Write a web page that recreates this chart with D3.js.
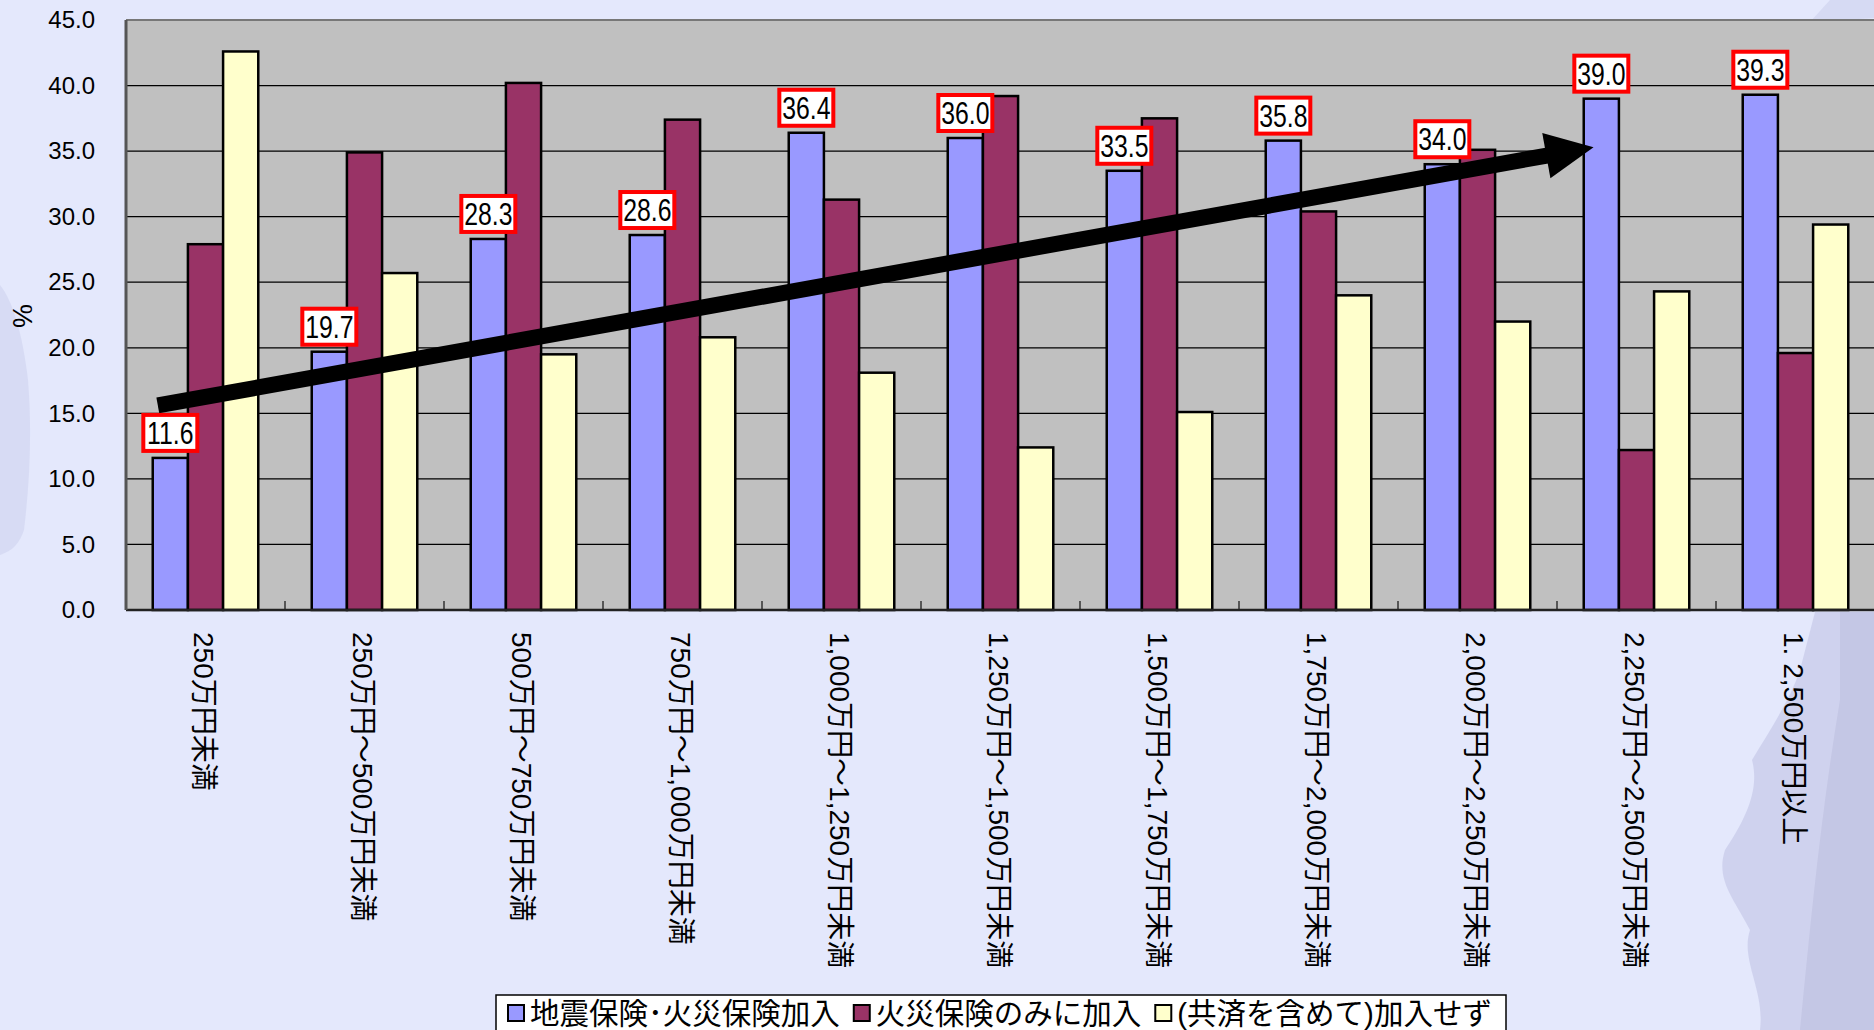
<!doctype html>
<html>
<head>
<meta charset="utf-8">
<script src="https://d3js.org/d3.v7.min.js"></script>
<style>
body { margin: 0; background: #e4e8fc; overflow: hidden; }
text { font-family: "Liberation Sans", "Noto Sans CJK JP", sans-serif; }
</style>
</head>
<body>
<script>
var width = 1874, height = 1030;

// data
var categories = ['250万円未満', '250万円～500万円未満', '500万円～750万円未満', '750万円～1,000万円未満',
  '1,000万円～1,250万円未満', '1,250万円～1,500万円未満', '1,500万円～1,750万円未満',
  '1,750万円～2,000万円未満', '2,000万円～2,250万円未満', '2,250万円～2,500万円未満', '1. 2,500万円以上'];
var seriesNames = ['地震保険･火災保険加入', '火災保険のみに加入', '(共済を含めて)加入せず'];
var quakeFire = [11.6, 19.7, 28.3, 28.6, 36.4, 36.0, 33.5, 35.8, 34.0, 39.0, 39.3];
var fireOnly = [27.9, 34.9, 40.2, 37.4, 31.3, 39.2, 37.5, 30.4, 35.1, 12.2, 19.6];
var notInsured = [42.6, 25.7, 19.5, 20.8, 18.1, 12.4, 15.1, 24.0, 22.0, 24.3, 29.4];
var yTicks = [0, 5, 10, 15, 20, 25, 30, 35, 40, 45];
// trend arrow: position in category units and value
var trend = [{c: 0.2, v: 15.6}, {c: 9.23, v: 35.3}];

var colors = ['#9999ff', '#993366', '#ffffcc'];
var seriesValues = [quakeFire, fireOnly, notInsured];

var svg = d3.select('body').append('svg').attr('width', width).attr('height', height);

// faint brush texture in the background
var tex = svg.append('g').attr('fill', '#c8cbea');
tex.append('path').attr('opacity', 0.45)
  .attr('d', 'M0,285 C12,300 22,330 28,380 C32,430 30,480 24,530 C18,548 8,552 0,555 Z');
tex.append('path').attr('opacity', 0.5)
  .attr('d', 'M1830,0 L1874,0 L1874,18 L1810,22 Z');
tex.append('path').attr('opacity', 0.75)
  .attr('d', 'M1815,612 L1874,612 L1874,1030 L1760,1030 C1765,990 1740,960 1750,930 C1735,900 1715,880 1725,850 C1745,820 1760,790 1752,760 C1770,730 1790,700 1800,670 Z');
tex.append('path').attr('opacity', 0.5).attr('fill', '#b9bbdc')
  .attr('d', 'M1840,612 L1874,612 L1874,1030 L1800,1030 C1810,930 1820,820 1840,700 Z');

var x = d3.scaleBand().domain(categories).range([126, 126 + 159 * categories.length]).padding(0);
var x1 = d3.scaleBand().domain(seriesNames).range([0, x.bandwidth()]).paddingInner(0).paddingOuter(0.76);
var y = d3.scaleLinear().domain([0, 45]).range([610, 20]);

var plot = svg.append('g');
plot.append('rect')
  .attr('x', x.range()[0]).attr('y', y(45))
  .attr('width', x.range()[1] - x.range()[0]).attr('height', y(0) - y(45))
  .attr('fill', '#c0c0c0');

// gridlines
plot.selectAll('.grid').data(yTicks.slice(1)).join('line')
  .attr('x1', x.range()[0]).attr('x2', x.range()[1])
  .attr('y1', function(d) { return y(d); }).attr('y2', function(d) { return y(d); })
  .attr('stroke', '#000').attr('stroke-width', 1.3);
plot.append('line').attr('x1', x.range()[0]).attr('x2', x.range()[1])
  .attr('y1', y(45)).attr('y2', y(45)).attr('stroke', '#777').attr('stroke-width', 2);

// bars
var groups = plot.selectAll('.cat').data(categories).join('g')
  .attr('transform', function(d) { return 'translate(' + x(d) + ',0)'; });
groups.selectAll('rect').data(function(d, i) {
    return seriesNames.map(function(s, k) { return {s: s, k: k, v: seriesValues[k][i]}; });
  }).join('rect')
  .attr('x', function(d) { return x1(d.s); })
  .attr('width', x1.bandwidth())
  .attr('y', function(d) { return y(d.v); })
  .attr('height', function(d) { return y(0) - y(d.v); })
  .attr('fill', function(d) { return colors[d.k]; })
  .attr('stroke', '#000').attr('stroke-width', 2.5);

// category ticks on x axis (inside)
plot.selectAll('.xt').data(categories.slice(1)).join('line')
  .attr('x1', function(d) { return x(d); }).attr('x2', function(d) { return x(d); })
  .attr('y1', y(0)).attr('y2', y(0) - 9)
  .attr('stroke', '#333').attr('stroke-width', 1.5);

// axes lines
plot.append('line').attr('x1', x.range()[0]).attr('x2', x.range()[1])
  .attr('y1', y(0)).attr('y2', y(0)).attr('stroke', '#222').attr('stroke-width', 2.5);
plot.append('line').attr('x1', x.range()[0]).attr('x2', x.range()[0])
  .attr('y1', y(0)).attr('y2', y(45)).attr('stroke', '#555').attr('stroke-width', 3);

// y axis
var yAxis = d3.axisLeft(y).tickValues(yTicks).tickFormat(d3.format('.1f')).tickSize(0).tickPadding(31);
var ya = svg.append('g').attr('transform', 'translate(' + x.range()[0] + ',0)').call(yAxis);
ya.select('.domain').remove();
ya.selectAll('text').attr('font-size', 24).attr('fill', '#000')
  .attr('font-family', '"Liberation Sans", Arial, sans-serif');

svg.append('text').text('%')
  .attr('transform', 'translate(22,316) rotate(90)')
  .attr('text-anchor', 'middle').attr('dy', '0.35em').attr('font-size', 27);

// x labels, vertical
svg.selectAll('.xl').data(categories).join('text')
  .text(function(d) { return d; })
  .attr('transform', function(d) { return 'translate(' + (x(d) + x.bandwidth() / 2 - 2) + ',632) rotate(90)'; })
  .attr('dy', '0.35em').attr('font-size', 28).attr('fill', '#000');

// trend arrow
function tp(p) { return [x.range()[0] + p.c * x.step(), y(p.v)]; }
var a = tp(trend[0]), b = tp(trend[1]);
var dx = b[0] - a[0], dy = b[1] - a[1], len = Math.sqrt(dx * dx + dy * dy);
var ux = dx / len, uy = dy / len, headL = 48, headW = 23;
var base = [b[0] - ux * headL, b[1] - uy * headL];
svg.append('line').attr('x1', a[0]).attr('y1', a[1]).attr('x2', base[0] + ux * 2).attr('y2', base[1] + uy * 2)
  .attr('stroke', '#000').attr('stroke-width', 16);
svg.append('path')
  .attr('d', 'M' + b[0] + ',' + b[1] +
    'L' + (base[0] - uy * headW) + ',' + (base[1] + ux * headW) +
    'L' + (base[0] + uy * headW) + ',' + (base[1] - ux * headW) + 'Z')
  .attr('fill', '#000');

// value labels for the first series
var lab = svg.selectAll('.vl').data(categories).join('g')
  .attr('transform', function(d, i) {
    return 'translate(' + (x(d) + x1(seriesNames[0]) + x1.bandwidth() / 2) + ',' + (y(quakeFire[i]) - 25) + ')';
  });
lab.append('rect').attr('x', -27).attr('y', -18).attr('width', 54).attr('height', 36)
  .attr('fill', '#fff').attr('stroke', '#ff0000').attr('stroke-width', 4);
lab.append('text').text(function(d, i) { return d3.format('.1f')(quakeFire[i]); })
  .attr('transform', 'scale(0.8,1)')
  .attr('text-anchor', 'middle').attr('dy', '0.36em').attr('font-size', 31).attr('fill', '#000');

// legend
var leg = svg.append('g');
leg.append('rect').attr('x', 496).attr('y', 995).attr('width', 1010).attr('height', 50)
  .attr('fill', '#fff').attr('stroke', '#000').attr('stroke-width', 1.5);
var lx = 508;
seriesNames.forEach(function(s, k) {
  leg.append('rect').attr('x', lx).attr('y', 1005).attr('width', 16).attr('height', 16)
    .attr('fill', colors[k]).attr('stroke', '#000').attr('stroke-width', 2);
  var t = leg.append('text').text(s).attr('x', lx + 22).attr('y', 1013).attr('dy', '0.36em')
    .attr('font-size', 29.5).attr('fill', '#000');
  lx += 22 + t.node().getComputedTextLength() + 14;
});
console.log('ready..');
</script>
</body>
</html>
